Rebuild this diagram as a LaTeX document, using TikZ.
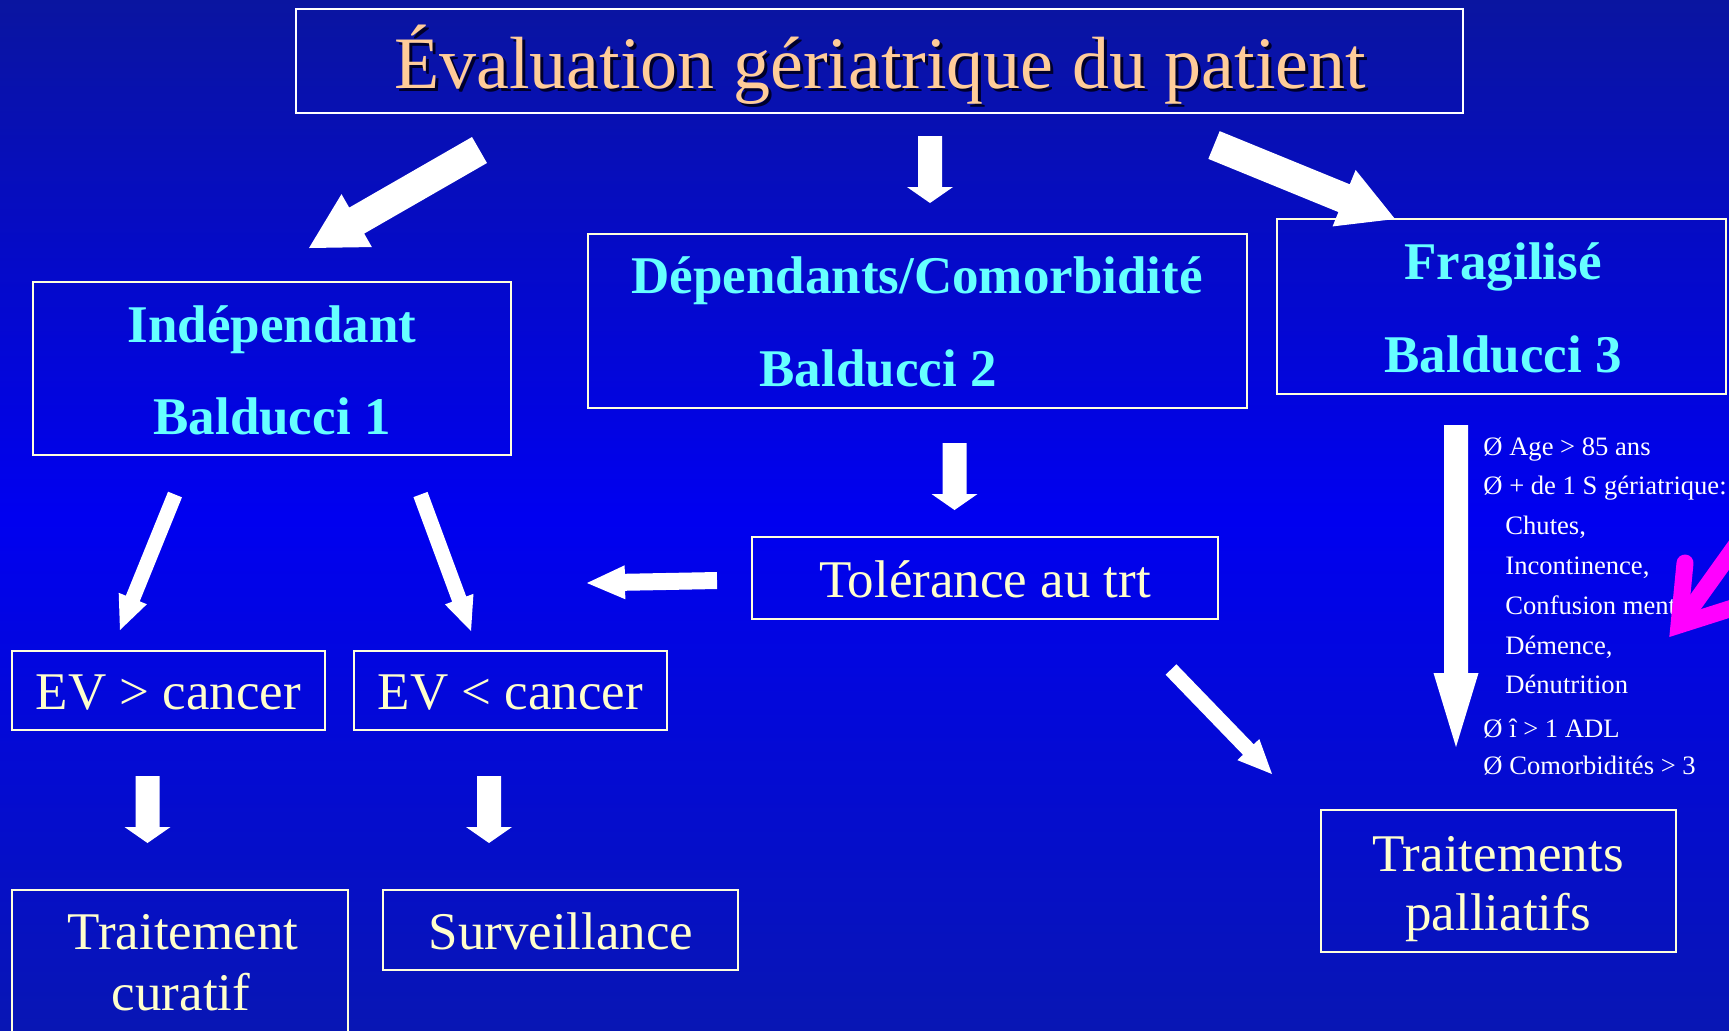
\documentclass[tikz,border=0pt]{standalone}
\usepackage{fontspec}
\setmainfont{Liberation Serif}
\usetikzlibrary{calc}
\definecolor{bgtop}{HTML}{0A15A0}
\definecolor{bgmid}{HTML}{0000F0}
\definecolor{bgbot}{HTML}{0816B4}
\definecolor{cyantxt}{HTML}{66FFFF}
\definecolor{creamtxt}{HTML}{FFFFCC}
\definecolor{peachtxt}{HTML}{FFCC99}
\definecolor{boxline}{HTML}{FFFFDD}
\definecolor{magentaarr}{HTML}{FF00FF}
\definecolor{shadowcol}{HTML}{00002A}
% block arrow: tail, tip, shaft half width, head half width, head length
\newcommand{\blockarrow}[5]{%
  \path ($(#2)!#5!(#1)$) coordinate (hb);
  \fill[white] ($(#1)!#3!90:(#2)$) -- ($(hb)!#3!90:(#2)$) -- ($(hb)!#4!90:(#2)$)
    -- (#2) -- ($(hb)!#4!-90:(#2)$) -- ($(hb)!#3!-90:(#2)$) -- ($(#1)!#3!-90:(#2)$) -- cycle;
}
\begin{document}
\begin{tikzpicture}[x=0.5pt,y=-0.5pt,
  box/.style={draw=boxline, line width=1.25pt, inner sep=0pt, rectangle},
  titlebox/.style={draw=white, line width=1.25pt, inner sep=0pt, rectangle},
  boldtxt/.style={anchor=base, inner sep=0pt, text=cyantxt, font=\fontsize{26.5pt}{30pt}\selectfont\bfseries},
  regtxt/.style={anchor=base, inner sep=0pt, text=creamtxt, font=\fontsize{26.5pt}{30pt}\selectfont},
  listtxt/.style={anchor=base west, inner sep=0pt, text=white, font=\fontsize{13.3pt}{16pt}\selectfont},
  magline/.style={draw=magentaarr, line width=8.5pt}
]
\useasboundingbox (0,0) rectangle (1729,1030);
\clip (0,0) rectangle (1729,1030);
\shade[top color=bgtop, bottom color=bgbot, middle color=bgmid] (0,0) rectangle (1729,1030);

% boxes
\node[titlebox, minimum width=583.5pt, minimum height=52pt] (title) at (879.5,61) {};
\node[box, minimum width=239pt, minimum height=86.5pt] (indep) at (272,368.5) {};
\node[box, minimum width=329.5pt, minimum height=87pt] (depend) at (917.5,321) {};
\node[box, minimum width=224.5pt, minimum height=87.5pt] (fragil) at (1501.5,306.5) {};
\node[box, minimum width=233pt, minimum height=41pt] (toler) at (985,578) {};
\node[box, minimum width=156.5pt, minimum height=39.5pt] (evgt) at (168.5,690.5) {};
\node[box, minimum width=156.5pt, minimum height=39.5pt] (evlt) at (510.5,690.5) {};
\node[box, minimum width=168pt, minimum height=80pt] (curatif) at (180,970) {};
\node[box, minimum width=177.5pt, minimum height=40pt] (surv) at (560.5,930) {};
\node[box, minimum width=177.5pt, minimum height=71pt] (pall) at (1498.5,881) {};

% title text with shadow
\node[anchor=base, inner sep=0pt, text=shadowcol, font=\fontsize{37pt}{44pt}\selectfont] (titleshadow) at (883,91) {Évaluation gériatrique du patient};
\node[anchor=base, inner sep=0pt, text=peachtxt, font=\fontsize{37pt}{44pt}\selectfont] (titletxt) at (880,88) {Évaluation gériatrique du patient};

% box texts
\node[boldtxt] (indep1) at (272,342) {Indépendant};
\node[boldtxt] (indep2) at (272,434) {Balducci 1};
\node[boldtxt] (depend1) at (917,293) {Dépendants/Comorbidité};
\node[boldtxt] (depend2) at (878,386) {Balducci 2};
\node[boldtxt] (fragil1) at (1503,279) {Fragilisé};
\node[boldtxt] (fragil2) at (1503,372) {Balducci 3};
\node[regtxt] (tolertxt) at (985,597) {Tolérance au trt};
\node[regtxt] (evgttxt) at (168.5,709) {EV > cancer};
\node[regtxt] (evlttxt) at (510.5,709) {EV < cancer};
\node[regtxt] (curatif1) at (183,949) {Traitement};
\node[regtxt] (curatif2) at (181,1010) {curatif};
\node[regtxt] (survtxt) at (561,949) {Surveillance};
\node[regtxt] (pall1) at (1498,871) {Traitements};
\node[regtxt] (pall2) at (1498,930) {palliatifs};

% list
\node[listtxt] (l1) at (1483,455) {Ø Age > 85 ans};
\node[listtxt] (l2) at (1483,494) {Ø + de 1 S gériatrique:};
\node[listtxt] (l3) at (1505,534) {Chutes,};
\node[listtxt] (l4) at (1505,574) {Incontinence,};
\node[listtxt] (l5) at (1505,614) {Confusion ment};
\node[listtxt] (l6) at (1505,654) {Démence,};
\node[listtxt] (l7) at (1505,693) {Dénutrition};
\node[listtxt] (l8) at (1483,737) {Ø î > 1 ADL};
\node[listtxt] (l9) at (1483,774) {Ø Comorbidités > 3};

% arrow end points
\coordinate (a1s) at (479.5,150);  \coordinate (a1e) at (309,248);
\coordinate (a2s) at (930,136);    \coordinate (a2e) at (930,203);
\coordinate (a3s) at (1214,145);   \coordinate (a3e) at (1395,219);
\coordinate (a4s) at (175,494.5);  \coordinate (a4e) at (120,630);
\coordinate (a5s) at (420.5,494.5);\coordinate (a5e) at (471,631);
\coordinate (a6s) at (954.5,443);  \coordinate (a6e) at (954.5,510);
\coordinate (a7s) at (717,580.5);  \coordinate (a7e) at (587,583);
\coordinate (a8s) at (1171,669.5); \coordinate (a8e) at (1272,774);
\coordinate (a9s) at (147.5,776);  \coordinate (a9e) at (147.5,843);
\coordinate (a10s) at (489,776);   \coordinate (a10e) at (489,843);
\coordinate (a11s) at (1456,425);  \coordinate (a11e) at (1456,747);

\blockarrow{a1s}{a1e}{7.5pt}{15.25pt}{27.5pt}
\blockarrow{a2s}{a2e}{6pt}{11.5pt}{8pt}
\blockarrow{a3s}{a3e}{7.5pt}{15.25pt}{27.5pt}
\blockarrow{a4s}{a4e}{3.75pt}{7.6pt}{17pt}
\blockarrow{a5s}{a5e}{3.75pt}{7.6pt}{17pt}
\blockarrow{a6s}{a6e}{6pt}{11.5pt}{8pt}
\blockarrow{a7s}{a7e}{4.25pt}{8.5pt}{19pt}
\blockarrow{a8s}{a8e}{3.75pt}{7.6pt}{17pt}
\blockarrow{a9s}{a9e}{6pt}{11.5pt}{8pt}
\blockarrow{a10s}{a10e}{6pt}{11.5pt}{8pt}
\blockarrow{a11s}{a11e}{6pt}{11.25pt}{37pt}

% magenta arrow
\coordinate (mc) at (1679,625);
\coordinate (m1) at (1685,563);
\coordinate (m2) at (1745,604);
\coordinate (m3) at (1752,523);
\draw[magline, line cap=round, line join=miter] (m1) -- (mc) -- (m2);
\draw[magline, line cap=butt] (mc) -- (m3);
\end{tikzpicture}
\end{document}
